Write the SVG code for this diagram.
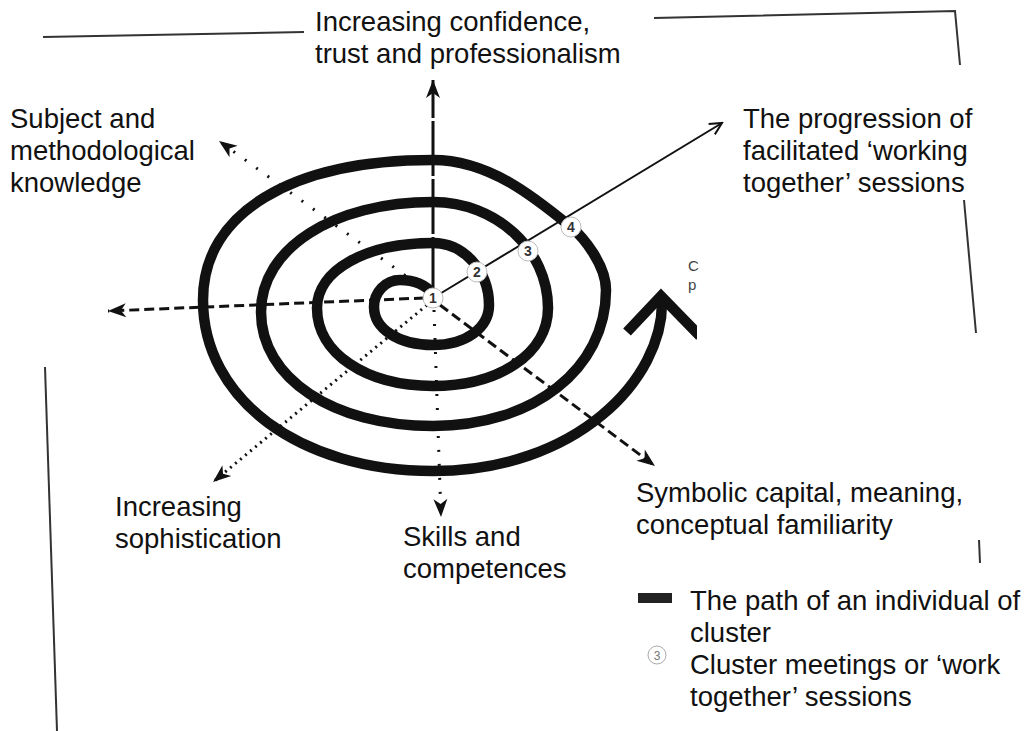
<svg xmlns="http://www.w3.org/2000/svg" width="1026" height="731" viewBox="0 0 1026 731">
  <style>
    .lbl { font-family: "Liberation Sans", Arial, sans-serif; font-size: 27.5px; fill: #111; }
    .num { font-family: "Liberation Sans", Arial, sans-serif; font-size: 14px; font-weight: bold; fill: #333; text-anchor: middle; }
    .frame { stroke: #333; stroke-width: 2; fill: none; }
    .axis { stroke: #111; fill: none; }
    .dash { stroke-width: 3; stroke-dasharray: 10 5; }
    .dots { stroke-width: 3; stroke-dasharray: 2 12; }
    .fine { stroke-width: 3; stroke-dasharray: 2 4.5; }
    .spiral { stroke: #111; stroke-width: 10.5; fill: none; }
    .stop { fill: #fff; stroke: #bbb; stroke-width: 1; }
  </style>
  <defs>
    <marker id="head" viewBox="-20 -8 22 16" refX="0" refY="0" markerWidth="22" markerHeight="16" markerUnits="userSpaceOnUse" orient="auto">
      <path d="M0,0 L-18,-7 L-13,0 L-18,7 Z" fill="#111"/>
    </marker>
    <marker id="open" viewBox="-14 -8 16 16" refX="0" refY="0" markerWidth="16" markerHeight="16" markerUnits="userSpaceOnUse" orient="auto">
      <path d="M-12,-6 L0,0 L-12,6" fill="none" stroke="#111" stroke-width="2"/>
    </marker>
    <clipPath id="cut"><rect x="0" y="0" width="697" height="731"/></clipPath>
  </defs>

  <rect width="1026" height="731" fill="#fff"/>

  <!-- loose page border pieces -->
  <g id="frame">
    <path class="frame" d="M43,37 L304,32"/>
    <path class="frame" d="M654,18 L955,11 L960,65"/>
    <path class="frame" d="M964,200 L976,333"/>
    <path class="frame" d="M979,540 L980,563"/>
    <path class="frame" d="M45,367 L57,731"/>
  </g>

  <!-- axes radiating from the centre -->
  <g id="connectors">
    <path class="axis" stroke-width="3" stroke-dasharray="55 3" d="M433,292 L433,80" marker-end="url(#head)"/>
    <path class="axis dots" d="M428,292 L219,141" marker-end="url(#head)"/>
    <path class="axis dash" d="M424,298 L108,311" marker-end="url(#head)"/>
    <path class="axis fine" d="M427,305 L213,482" marker-end="url(#head)"/>
    <path class="axis dots" d="M434,310 L441,517" marker-end="url(#head)"/>
    <path class="axis dash" d="M440,305 L655,466" marker-end="url(#head)"/>
    <path class="axis" stroke-width="2" d="M433,298 L722,123" marker-end="url(#open)"/>
  </g>

  <!-- path of an individual -->
  <g id="spiral">
    <path class="spiral" d="M433,294 C425,284 413,280 400,280 C385.7,280 374,292.2 374,307 C374,329 398.8,345 433,345 C465.5,345 489,328.2 489,305 C489,270.9 463.8,243 433,243 C365.7,243 317,270.3 317,308 C317,353.2 365.7,386 433,386 C499.7,386 548,353.2 548,308 C548,249.7 496.3,202 433,202 C333.2,202 261,248.2 261,312 C261,378.1 333.2,426 433,426 C533.3,426 606,368.9 606,290 C606,265 583.4,237.1 571,227 C536.1,198.6 490,160 433,160 C290.4,160 203,213.2 203,300 C203,399.2 299.6,471 433,471 C575,471 664,380 662,300"/>
    <polyline class="spiral" stroke-width="12" stroke-linejoin="miter" clip-path="url(#cut)" points="627,332 661,296 700,336"/>
  </g>

  <!-- meeting points -->
  <g id="meeting-1"><circle class="stop" cx="433" cy="298" r="10"/><text class="num" x="433" y="303">1</text></g>
  <g id="meeting-2"><circle class="stop" cx="477" cy="272" r="10"/><text class="num" x="477" y="277">2</text></g>
  <g id="meeting-3"><circle class="stop" cx="528" cy="251" r="10"/><text class="num" x="528" y="256">3</text></g>
  <g id="meeting-4"><circle class="stop" cx="571" cy="227" r="10"/><text class="num" x="571" y="232">4</text></g>

  <!-- axis labels -->
  <g id="label-confidence"><text class="lbl" x="315" y="31">Increasing confidence,</text><text class="lbl" x="315" y="63">trust and professionalism</text></g>
  <g id="label-knowledge"><text class="lbl" x="10" y="128">Subject and</text><text class="lbl" x="10" y="160">methodological</text><text class="lbl" x="10" y="192">knowledge</text></g>
  <g id="label-progression"><text class="lbl" x="743" y="128">The progression of</text><text class="lbl" x="743" y="160">facilitated ‘working</text><text class="lbl" x="743" y="192">together’ sessions</text></g>
  <g id="label-sophistication"><text class="lbl" x="115" y="516">Increasing</text><text class="lbl" x="115" y="548">sophistication</text></g>
  <g id="label-skills"><text class="lbl" x="403" y="546">Skills and</text><text class="lbl" x="403" y="578">competences</text></g>
  <g id="label-symbolic"><text class="lbl" x="636" y="502">Symbolic capital, meaning,</text><text class="lbl" x="636" y="534">conceptual familiarity</text></g>
  <g id="label-cut"><text x="688" y="271" font-family="Liberation Sans, Arial, sans-serif" font-size="15" fill="#444">C</text><text x="688" y="290" font-family="Liberation Sans, Arial, sans-serif" font-size="15" fill="#444">p</text></g>

  <!-- key -->
  <g id="legend-path"><rect x="638" y="593" width="34" height="10" fill="#222"/><text class="lbl" x="690" y="610">The path of an individual of</text><text class="lbl" x="690" y="642">cluster</text></g>
  <g id="legend-meeting"><circle cx="657" cy="655" r="9" fill="#fff" stroke="#aaa" stroke-width="1"/><text x="657" y="660" font-family="Liberation Sans, Arial, sans-serif" font-size="12" fill="#777" text-anchor="middle">3</text><text class="lbl" x="690" y="674">Cluster meetings or ‘work</text><text class="lbl" x="690" y="706">together’ sessions</text></g>
</svg>
